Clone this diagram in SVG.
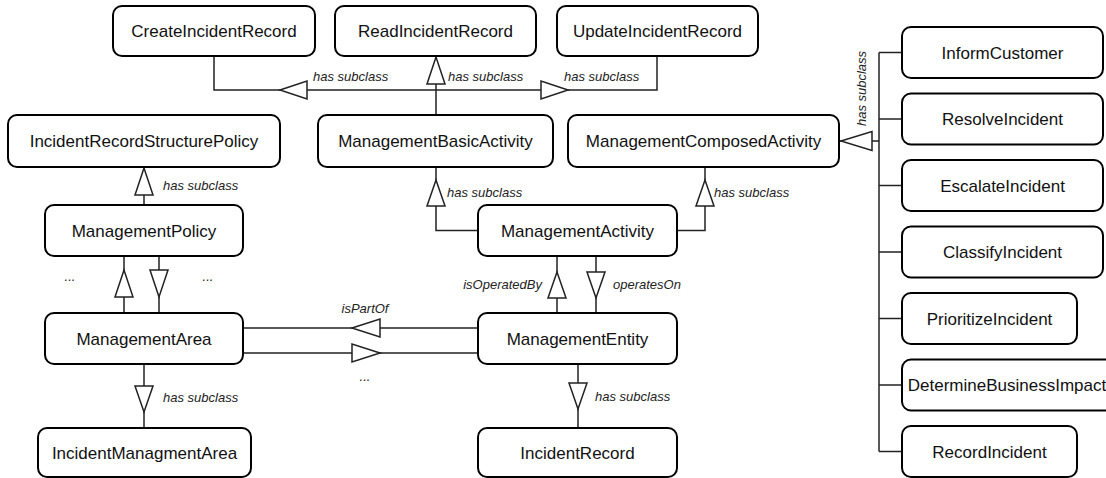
<svg xmlns="http://www.w3.org/2000/svg" width="1106" height="478" viewBox="0 0 1106 478">
<style>
.box{fill:#fff;stroke:#000;stroke-width:2}
.lbl{font-family:"Liberation Sans",Arial,sans-serif;font-size:17px;fill:#111;text-anchor:middle}
.ed{fill:none;stroke:#222;stroke-width:1.5}
.tri{fill:#fff;stroke:#222;stroke-width:1.5;stroke-linejoin:miter}
.el{font-family:"Liberation Sans",Arial,sans-serif;font-size:13px;font-style:italic;fill:#222}
.mid{text-anchor:middle}
.end{text-anchor:end}
</style>
<rect width="1106" height="478" fill="#fff"/>
<g id="connectors">
  <path class="ed" d="M214,56 V90 H657 V56"/>
  <polygon class="tri" points="280,90 307,81 307,99"/>
  <polygon class="tri" points="568,90 541,81 541,99"/>
  <path class="ed" d="M436,115 V56"/>
  <polygon class="tri" points="436,57 427,84 445,84"/>
  <text class="el" x="313" y="81">has subclass</text>
  <text class="el" x="448" y="81">has subclass</text>
  <text class="el" x="564" y="81">has subclass</text>

  <path class="ed" d="M144,205 V167"/>
  <polygon class="tri" points="144,168 135,195 153,195"/>
  <text class="el" x="163" y="190">has subclass</text>

  <path class="ed" d="M478,230.5 H436 V167"/>
  <polygon class="tri" points="436,180 427,206 445,206"/>
  <text class="el" x="447" y="197">has subclass</text>

  <path class="ed" d="M677,230.5 H705 V167"/>
  <polygon class="tri" points="705,180 696,206 714,206"/>
  <text class="el" x="714" y="197">has subclass</text>

  <path class="ed" d="M839,141 H879 M879,52.5 V451.5 M879,52.5 H902 M879,119 H902 M879,185.5 H902 M879,252 H902 M879,318.5 H902 M879,385 H902 M879,451.5 H902"/>
  <polygon class="tri" points="841,141 872,131.5 872,150.5"/>
  <text class="el mid" transform="translate(866,88.5) rotate(-90)">has subclass</text>

  <path class="ed" d="M124,256 V313 M159,256 V313"/>
  <polygon class="tri" points="124,270 115,297 133,297"/>
  <polygon class="tri" points="159,297 150,270 168,270"/>
  <text class="el mid" x="70" y="281">...</text>
  <text class="el mid" x="208" y="281">...</text>

  <path class="ed" d="M243,328 H478 M243,353 H478"/>
  <polygon class="tri" points="352,328 380,319 380,337"/>
  <polygon class="tri" points="380,353 352,344 352,362"/>
  <text class="el mid" x="365" y="313">isPartOf</text>
  <text class="el mid" x="365" y="381">...</text>

  <path class="ed" d="M557,256 V313 M596,256 V313"/>
  <polygon class="tri" points="557,272 548,298 566,298"/>
  <polygon class="tri" points="596,298 587,272 605,272"/>
  <text class="el end" x="542" y="289">isOperatedBy</text>
  <text class="el" x="613" y="289">operatesOn</text>

  <path class="ed" d="M144,364 V428"/>
  <polygon class="tri" points="144,412 135,386 153,386"/>
  <text class="el" x="163" y="402">has subclass</text>

  <path class="ed" d="M578,364 V428"/>
  <polygon class="tri" points="578,409 569,383 587,383"/>
  <text class="el" x="595" y="401">has subclass</text>
</g>
<g id="CreateIncidentRecord"><rect class="box" x="113" y="6" width="202" height="50" rx="9"/><text class="lbl" x="214" y="37">CreateIncidentRecord</text></g>
<g id="ReadIncidentRecord"><rect class="box" x="335" y="6" width="201" height="50" rx="9"/><text class="lbl" x="435.5" y="37">ReadIncidentRecord</text></g>
<g id="UpdateIncidentRecord"><rect class="box" x="557" y="6" width="201" height="50" rx="9"/><text class="lbl" x="657.5" y="37">UpdateIncidentRecord</text></g>
<g id="IncidentRecordStructurePolicy"><rect class="box" x="8" y="115" width="272" height="52" rx="9"/><text class="lbl" x="144" y="147">IncidentRecordStructurePolicy</text></g>
<g id="ManagementBasicActivity"><rect class="box" x="318" y="115" width="235" height="52" rx="9"/><text class="lbl" x="435.5" y="147">ManagementBasicActivity</text></g>
<g id="ManagementComposedActivity"><rect class="box" x="568" y="115" width="271" height="52" rx="9"/><text class="lbl" x="703.5" y="147">ManagementComposedActivity</text></g>
<g id="ManagementPolicy"><rect class="box" x="45" y="205" width="198" height="51" rx="9"/><text class="lbl" x="144" y="236.5">ManagementPolicy</text></g>
<g id="ManagementActivity"><rect class="box" x="478" y="205" width="199" height="51" rx="9"/><text class="lbl" x="577.5" y="236.5">ManagementActivity</text></g>
<g id="ManagementArea"><rect class="box" x="45" y="313" width="198" height="51" rx="9"/><text class="lbl" x="144" y="344.5">ManagementArea</text></g>
<g id="ManagementEntity"><rect class="box" x="478" y="313" width="199" height="51" rx="9"/><text class="lbl" x="577.5" y="344.5">ManagementEntity</text></g>
<g id="IncidentManagmentArea"><rect class="box" x="38" y="428" width="213" height="49" rx="9"/><text class="lbl" x="144.5" y="458.5">IncidentManagmentArea</text></g>
<g id="IncidentRecord"><rect class="box" x="478" y="428" width="199" height="49" rx="9"/><text class="lbl" x="577.5" y="458.5">IncidentRecord</text></g>
<g id="InformCustomer"><rect class="box" x="902" y="27" width="201" height="51" rx="9"/><text class="lbl" x="1002.5" y="58.5">InformCustomer</text></g>
<g id="ResolveIncident"><rect class="box" x="902" y="93.5" width="201" height="51" rx="9"/><text class="lbl" x="1002.5" y="125">ResolveIncident</text></g>
<g id="EscalateIncident"><rect class="box" x="902" y="160" width="201" height="51" rx="9"/><text class="lbl" x="1002.5" y="191.5">EscalateIncident</text></g>
<g id="ClassifyIncident"><rect class="box" x="902" y="226.5" width="201" height="51" rx="9"/><text class="lbl" x="1002.5" y="258">ClassifyIncident</text></g>
<g id="PrioritizeIncident"><rect class="box" x="902" y="293" width="175" height="51" rx="9"/><text class="lbl" x="989.5" y="324.5">PrioritizeIncident</text></g>
<g id="DetermineBusinessImpact"><rect class="box" x="902" y="359.5" width="212" height="51" rx="9"/><text class="lbl" x="1007" y="391">DetermineBusinessImpact</text></g>
<g id="RecordIncident"><rect class="box" x="902" y="426" width="175" height="51" rx="9"/><text class="lbl" x="989.5" y="457.5">RecordIncident</text></g>
</svg>
